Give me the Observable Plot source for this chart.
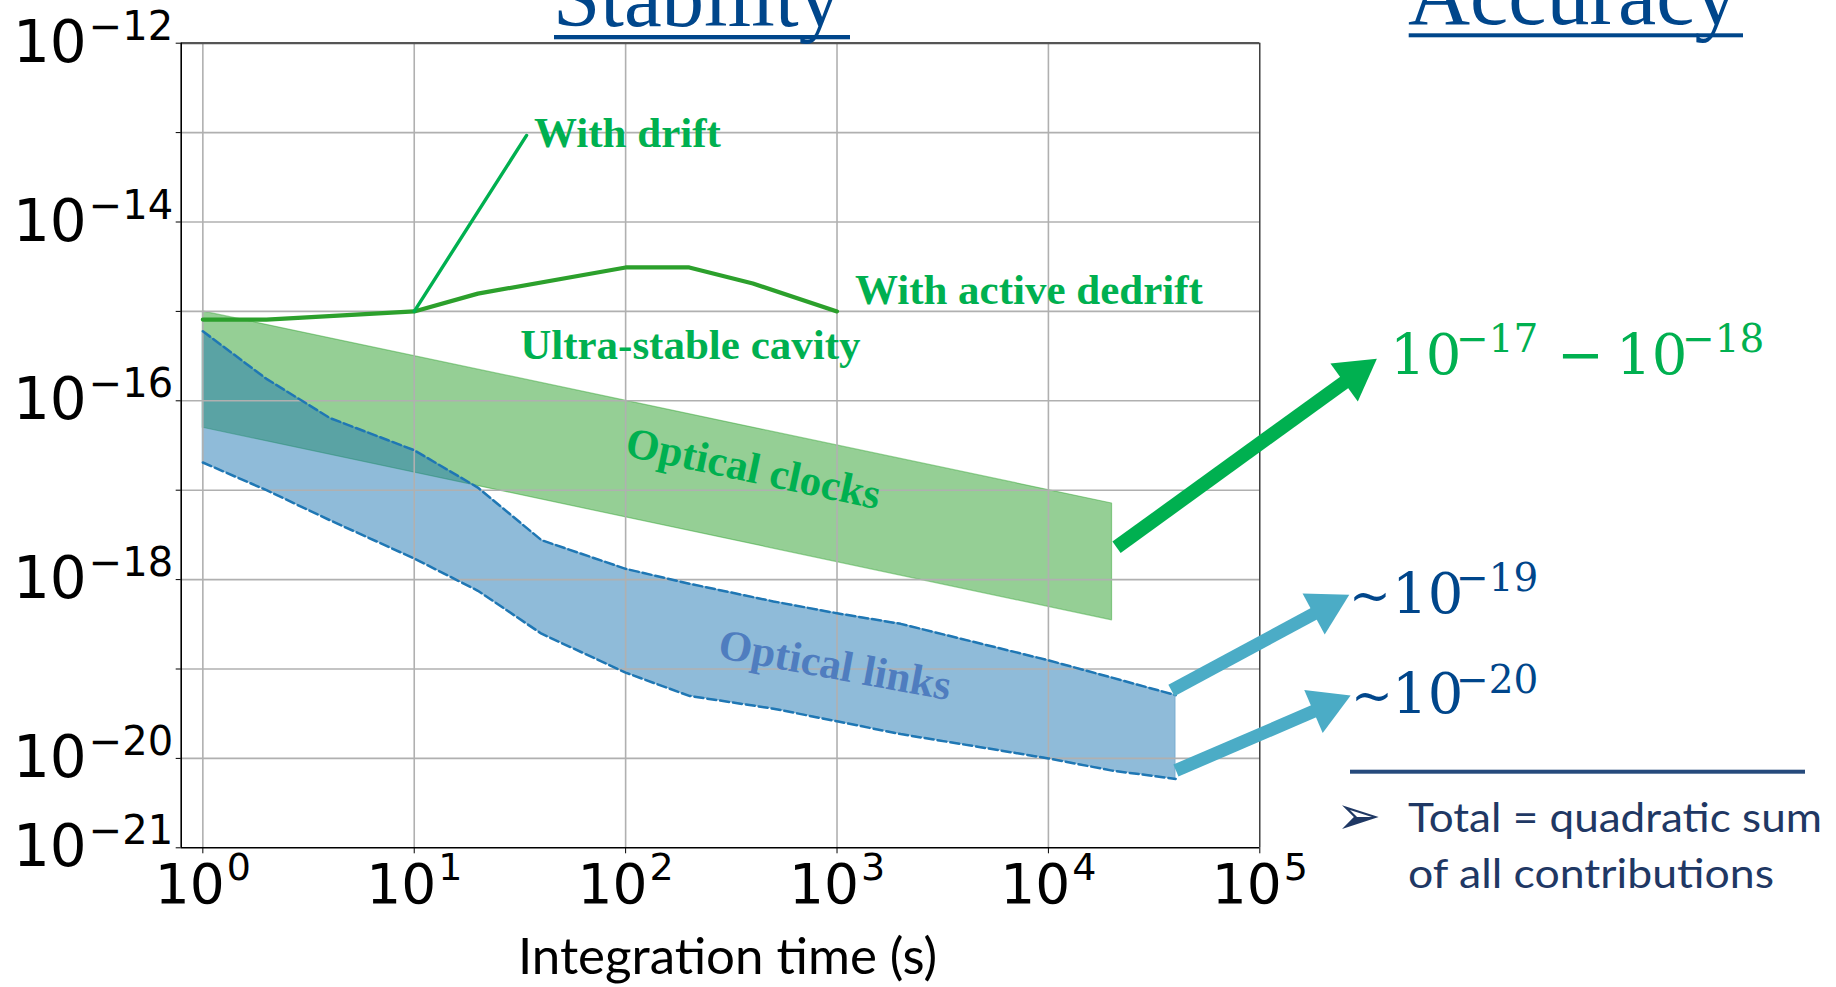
<!DOCTYPE html>
<html>
<head>
<meta charset="utf-8">
<script src="https://cdn.jsdelivr.net/npm/d3@7"></script>
<script src="https://cdn.jsdelivr.net/npm/@observablehq/plot@0.6"></script>
<style>
html, body { margin: 0; padding: 0; background: #fff; overflow: hidden; }
#wrap { position: relative; width: 1836px; height: 987px; }
#chart { position: absolute; left: 0; top: 0; }
#deco { position: absolute; left: 0; top: 0; pointer-events: none; }
</style>
</head>
<body>
<div id="wrap">
  <div id="chart"></div>
  <svg id="deco" width="1836" height="987" xmlns="http://www.w3.org/2000/svg">
    <!-- slide headings -->
    <text x="553" y="26" font-family="Liberation Serif, 'Times New Roman', serif" font-size="85" fill="#00468b">Stability</text>
    <rect x="554" y="35" width="296" height="4.3" fill="#00468b"></rect>
    <text x="1408" y="24" font-family="Liberation Serif, 'Times New Roman', serif" font-size="86" fill="#00468b">Accuracy</text>
    <rect x="1408.7" y="33.3" width="334.3" height="4" fill="#00468b"></rect>

    <!-- accuracy values -->
    <g font-family="DejaVu Serif, serif" fill="#00b050">
      <text x="1390" y="374" font-size="56">10</text>
      <text x="1456" y="352" font-size="39">−17</text>
      <text x="1557" y="374" font-size="56">−</text>
      <text x="1616" y="374" font-size="56">10</text>
      <text x="1682" y="352" font-size="39">−18</text>
    </g>
    <g font-family="DejaVu Serif, serif" fill="#00468b">
      <text x="1349" y="613" font-size="50">~</text>
      <text x="1392" y="613" font-size="56">10</text>
      <text x="1456" y="591" font-size="39">−19</text>
      <text x="1351" y="713" font-size="50">~</text>
      <text x="1392" y="713" font-size="56">10</text>
      <text x="1456" y="693" font-size="39">−20</text>
    </g>

    <rect x="1350" y="769.7" width="455" height="4" fill="#264a7c"></rect>
    <text x="1336" y="834" font-family="DejaVu Sans, sans-serif" font-size="54" fill="#1f3864">➢</text>
    <text x="1408" y="831.7" font-family="Lato, sans-serif" font-size="40" fill="#1f3864" textLength="414" lengthAdjust="spacingAndGlyphs">Total = quadratic sum</text>
    <text x="1408" y="888.3" font-family="Lato, sans-serif" font-size="40" fill="#1f3864" textLength="366" lengthAdjust="spacingAndGlyphs">of all contributions</text>
  </svg>
</div>
<script>
// ---------------- data ----------------
// Optical clocks band: fractional instability vs integration time
const clockTau   = [1, 2e4];
const clockUpper = [1.0e-15, 7.1e-18];
const clockLower = [5.0e-17, 3.5e-19];

// Optical links band (dashed envelope)
const linkTau   = [1, 2, 4, 10, 20, 40, 100, 200, 500, 1000, 2000, 1e4, 2e4, 4e4];
const linkUpper = [6.0e-16, 1.76e-16, 6.4e-17, 2.8e-17, 1.07e-17, 2.76e-18, 1.32e-18, 9.0e-19, 5.7e-19, 4.2e-19, 3.2e-19, 1.25e-19, 8.0e-20, 5.1e-20];
const linkLower = [2.04e-17, 1.0e-17, 4.6e-18, 1.72e-18, 7.5e-19, 2.48e-19, 9.1e-20, 5.0e-20, 3.6e-20, 2.6e-20, 1.87e-20, 1.0e-20, 7.3e-21, 5.9e-21];

// Ultra-stable cavity (with active dedrift)
const cavityTau   = [1, 2, 10, 20, 100, 200, 400, 1000];
const cavitySigma = [8.1e-16, 8.1e-16, 1.0e-15, 1.58e-15, 3.1e-15, 3.1e-15, 2.05e-15, 1.0e-15];

// "With drift" branch
const driftTau   = [10, 34];
const driftSigma = [1.0e-15, 9.3e-14];

// Axis ticks
const xTickValues = [1, 10, 100, 1000, 1e4, 1e5];
const yTickValues = [1e-21, 1e-20, 1e-19, 1e-18, 1e-17, 1e-16, 1e-15, 1e-14, 1e-13, 1e-12];
const yLabelledExp = [-12, -14, -16, -18, -20, -21];

// Annotation labels and anchors (data coordinates)
const noteText = ["With drift", "With active dedrift", "Ultra-stable cavity"];
const noteTau  = [36.9, 1216, 31.7];
const noteVal  = [9.8e-14, 1.735e-15, 4.21e-16];
const bandText = ["Optical clocks", "Optical links"];
const bandTau  = [402, 977];
const bandVal  = [1.73e-17, 1.1e-19];

// Block arrows pointing to the accuracy figures (tail -> tip)
const arrowTailTau = [2.1e4, 3.82e4, 4.01e4];
const arrowTailVal = [2.3e-18, 5.75e-20, 7.32e-21];
const arrowTipTau  = [3.58e5, 2.65e5, 2.69e5];
const arrowTipVal  = [2.95e-16, 6.76e-19, 5.06e-20];

// ---------------- layout ----------------
const W = 1836, H = 987;
const mL = 180.7, mT = 42.7, mR = 576.7, mB = 139.7;
const xDomain = [0.79, 1e5];
const yDomain = [1e-21, 1e-12];

const clocks = clockTau.map((t, i) => ({tau: t, hi: clockUpper[i], lo: clockLower[i]}));
const links  = linkTau.map((t, i) => ({tau: t, hi: linkUpper[i], lo: linkLower[i]}));
const cavity = cavityTau.map((t, i) => ({tau: t, sigma: cavitySigma[i]}));
const drift  = driftTau.map((t, i) => ({tau: t, sigma: driftSigma[i]}));
const notes  = noteText.map((s, i) => ({label: s, tau: noteTau[i], val: noteVal[i]}));

// arrow geometry via the same scales Plot will use
const xs = Plot.scale({x: {type: "log", domain: xDomain, range: [mL, W - mR]}});
const ys = Plot.scale({y: {type: "log", domain: yDomain, range: [H - mB, mT]}});
const headR = 22.3;                       // dot radius of the triangle head
const headS = 0.6824 * Math.sqrt(Math.PI * headR * headR); // centre-to-tip distance
const arrows = arrowTailTau.map((_, i) => {
  const x1 = xs.apply(arrowTailTau[i]), y1 = ys.apply(arrowTailVal[i]);
  const x2 = xs.apply(arrowTipTau[i]),  y2 = ys.apply(arrowTipVal[i]);
  const L = Math.hypot(x2 - x1, y2 - y1), ux = (x2 - x1) / L, uy = (y2 - y1) / L;
  const cx = x2 - headS * ux, cy = y2 - headS * uy;
  return {
    tailTau: arrowTailTau[i], tailVal: arrowTailVal[i],
    headTau: xs.invert(cx), headVal: ys.invert(cy),
    angle: Math.atan2(ux, -uy) * 180 / Math.PI
  };
});
const greenArrow = arrows.slice(0, 1);
const cyanArrows = arrows.slice(1);

const GRID = "#b0b0b0";
const plot = Plot.plot({
  width: W, height: H,
  marginLeft: mL, marginRight: mR, marginTop: mT, marginBottom: mB,
  x: {type: "log", domain: xDomain},
  y: {type: "log", domain: yDomain},
  style: {background: "transparent", overflow: "visible"},
  marks: [
    Plot.areaY(clocks, {x: "tau", y1: "lo", y2: "hi", fill: "#2ca02c", fillOpacity: 0.5,
      stroke: "#2ca02c", strokeOpacity: 0.45, strokeWidth: 1.2}),
    Plot.areaY(links, {x: "tau", y1: "lo", y2: "hi", fill: "#1f77b4", fillOpacity: 0.5,
      stroke: "#1f77b4", strokeOpacity: 0.3, strokeWidth: 1}),
    Plot.gridX(xTickValues.slice(0, 5), {stroke: GRID, strokeOpacity: 1, strokeWidth: 1.6}),
    Plot.gridY(yTickValues.slice(1, 9), {stroke: GRID, strokeOpacity: 1, strokeWidth: 1.6}),
    Plot.line(links, {x: "tau", y: "hi", stroke: "#1f77b4", strokeWidth: 2.5, strokeDasharray: "9 4"}),
    Plot.line(links, {x: "tau", y: "lo", stroke: "#1f77b4", strokeWidth: 2.5, strokeDasharray: "9 4"}),
    Plot.line(cavity, {x: "tau", y: "sigma", stroke: "#2ca02c", strokeWidth: 4.2}),
    Plot.line(drift, {x: "tau", y: "sigma", stroke: "#00b050", strokeWidth: 3.4}),
    // frame
    Plot.ruleY([yDomain[1]], {stroke: "#555", strokeWidth: 2.2}),
    Plot.ruleX([xDomain[1]], {stroke: "#222", strokeWidth: 1.3}),
    Plot.ruleX([xDomain[0]], {stroke: "#000", strokeWidth: 1.6}),
    Plot.ruleY([yDomain[0]], {stroke: "#000", strokeWidth: 1.6}),
    // axes
    Plot.axisX(xTickValues, {tickSize: 6, tickPadding: 10, fontSize: 55, fontFamily: "DejaVu Sans",
      tickFormat: d => `10^${Math.round(Math.log10(d))}`, label: null}),
    Plot.axisY(yTickValues, {tickSize: 5, tickPadding: 3, fontSize: 58, fontFamily: "DejaVu Sans",
      tickFormat: d => { const k = Math.round(Math.log10(d)); return yLabelledExp.includes(k) ? `10^${k}` : ""; },
      label: null}),
    Plot.text(["Integration time (s)"], {frameAnchor: "bottom", text: d => d, dx: 7, dy: 126,
      fontSize: 51, fontFamily: "Lato", fill: "#000"}),
    // annotations
    Plot.text(notes, {x: "tau", y: "val", text: "label", textAnchor: "start", fontSize: 43,
      fontWeight: "bold", fontFamily: "Liberation Serif", fill: "#00b050"}),
    Plot.text([0], {x: () => bandTau[0], y: () => bandVal[0], text: () => bandText[0], rotate: 12,
      fontSize: 43, fontWeight: "bold", fontFamily: "Liberation Serif", fill: "#00b050"}),
    Plot.text([1], {x: () => bandTau[1], y: () => bandVal[1], text: () => bandText[1], rotate: 10.5,
      fontSize: 43, fontWeight: "bold", fontFamily: "Liberation Serif", fill: "#4f7dbf"}),
    // arrows
    Plot.link(greenArrow, {x1: "tailTau", y1: "tailVal", x2: "headTau", y2: "headVal",
      stroke: "#00b050", strokeWidth: 14, strokeLinecap: "butt"}),
    Plot.dot(greenArrow, {x: "headTau", y: "headVal", symbol: "triangle2", r: headR, rotate: "angle",
      fill: "#00b050", stroke: "none"}),
    Plot.link(cyanArrows, {x1: "tailTau", y1: "tailVal", x2: "headTau", y2: "headVal",
      stroke: "#4bacc6", strokeWidth: 13, strokeLinecap: "butt"}),
    Plot.dot(cyanArrows, {x: "headTau", y: "headVal", symbol: "triangle2", r: headR, rotate: "angle",
      fill: "#4bacc6", stroke: "none"})
  ]
});

// turn "10^k" tick labels into real superscripts
const NS = "http://www.w3.org/2000/svg";
plot.querySelectorAll("text").forEach(t => {
  const m = (t.textContent || "").match(/^10\^(-?\d+)$/);
  if (!m) return;
  const g = t.closest("g[aria-label]");
  const isX = g && /x-axis/.test(g.getAttribute("aria-label"));
  const raise = isX ? 23 : 22;
  const expSize = isX ? 38 : 40;
  while (t.firstChild) t.removeChild(t.firstChild);
  t.appendChild(document.createTextNode("10"));
  const sup = document.createElementNS(NS, "tspan");
  sup.setAttribute("dy", -raise);
  sup.setAttribute("font-size", expSize);
  sup.setAttribute("dx", 2);
  sup.textContent = m[1].replace("-", "−");
  t.appendChild(sup);
});

document.getElementById("chart").appendChild(plot);
</script>
</body>
</html>
